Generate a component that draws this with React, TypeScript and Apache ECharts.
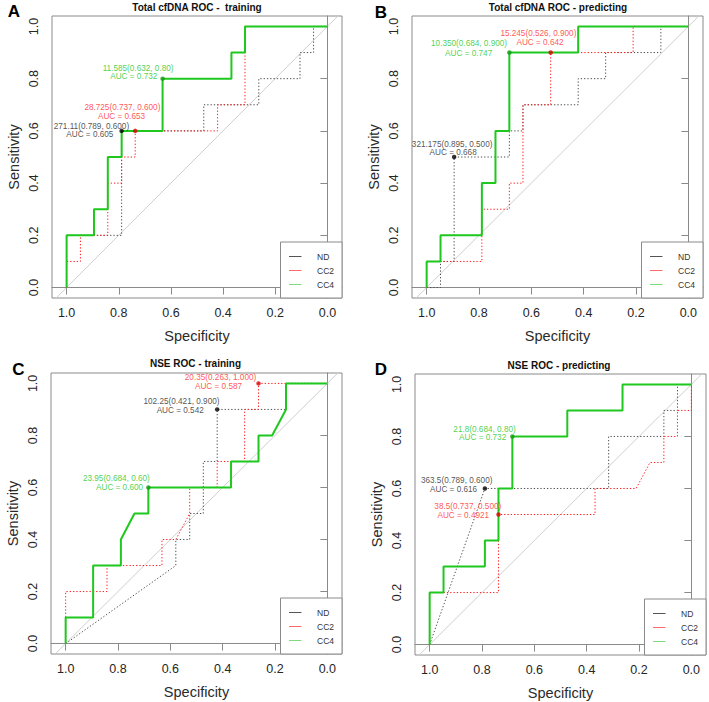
import React, { useEffect, useRef } from 'react';
import * as echarts from 'echarts';

// ---------- data ----------
const SERIES_NAMES = ['ND', 'CC2', 'CC4'];
const TICKS = [0, 0.2, 0.4, 0.6, 0.8, 1.0];
const PANEL_LETTERS = ['A', 'B', 'C', 'D'];
const PANEL_TITLES = [
  'Total cfDNA ROC -  training',
  'Total cfDNA ROC - predicting',
  'NSE ROC - training',
  'NSE ROC - predicting',
];

// Panel A: Total cfDNA ROC - training  ([specificity, sensitivity])
const A_ND: [number, number][] = [[1, 0], [1, 0.2], [0.789, 0.2], [0.789, 0.6], [0.474, 0.6], [0.474, 0.7], [0.263, 0.7], [0.263, 0.8], [0.105, 0.8], [0.105, 0.9], [0.053, 0.9], [0.053, 1], [0, 1]];
const A_CC2: [number, number][] = [[1, 0], [1, 0.1], [0.947, 0.1], [0.947, 0.2], [0.842, 0.2], [0.842, 0.4], [0.789, 0.4], [0.789, 0.5], [0.737, 0.5], [0.737, 0.6], [0.421, 0.6], [0.421, 0.7], [0.316, 0.7], [0.316, 1], [0, 1]];
const A_CC4: [number, number][] = [[1, 0], [1, 0.2], [0.895, 0.2], [0.895, 0.3], [0.842, 0.3], [0.842, 0.5], [0.789, 0.5], [0.789, 0.6], [0.632, 0.6], [0.632, 0.8], [0.368, 0.8], [0.368, 0.9], [0.316, 0.9], [0.316, 1], [0, 1]];
const A_CUT_SPEC = [0.789, 0.737, 0.632];
const A_CUT_SENS = [0.6, 0.6, 0.8];
const A_CUT_TEXT = ['271.11(0.789, 0.600)', '28.725(0.737, 0.600)', '11.585(0.632, 0.80)'];
const A_AUC = ['0.605', '0.653', '0.732'];

// Panel B: Total cfDNA ROC - predicting
const B_ND: [number, number][] = [[1, 0], [0.947, 0], [0.947, 0.1], [0.895, 0.1], [0.895, 0.5], [0.684, 0.5], [0.684, 0.6], [0.632, 0.6], [0.632, 0.7], [0.421, 0.7], [0.421, 0.8], [0.316, 0.8], [0.316, 0.9], [0.105, 0.9], [0.105, 1], [0, 1]];
const B_CC2: [number, number][] = [[1, 0], [1, 0.1], [0.789, 0.1], [0.789, 0.3], [0.684, 0.3], [0.684, 0.4], [0.632, 0.4], [0.632, 0.7], [0.526, 0.7], [0.526, 0.9], [0.211, 0.9], [0.211, 1], [0, 1]];
const B_CC4: [number, number][] = [[1, 0], [1, 0.1], [0.947, 0.1], [0.947, 0.2], [0.789, 0.2], [0.789, 0.4], [0.737, 0.4], [0.737, 0.6], [0.684, 0.6], [0.684, 0.9], [0.421, 0.9], [0.421, 1], [0, 1]];
const B_CUT_SPEC = [0.895, 0.526, 0.684];
const B_CUT_SENS = [0.5, 0.9, 0.9];
const B_CUT_TEXT = ['321.175(0.895, 0.500)', '15.245(0.526, 0.900)', '10.350(0.684, 0.900)'];
const B_AUC = ['0.668', '0.642', '0.747'];

// Panel C: NSE ROC - training
const C_ND: [number, number][] = [[1, 0], [0.579, 0.3], [0.579, 0.4], [0.526, 0.4], [0.526, 0.5], [0.474, 0.5], [0.474, 0.7], [0.421, 0.7], [0.421, 0.9], [0.158, 0.9], [0.158, 1], [0, 1]];
const C_CC2: [number, number][] = [[1, 0], [1, 0.2], [0.842, 0.2], [0.842, 0.3], [0.632, 0.3], [0.632, 0.4], [0.579, 0.4], [0.526, 0.5], [0.526, 0.6], [0.421, 0.6], [0.421, 0.7], [0.316, 0.7], [0.316, 0.9], [0.263, 0.9], [0.263, 1], [0, 1]];
const C_CC4: [number, number][] = [[1, 0], [1, 0.1], [0.895, 0.1], [0.895, 0.3], [0.789, 0.3], [0.789, 0.4], [0.737, 0.5], [0.684, 0.5], [0.684, 0.6], [0.368, 0.6], [0.368, 0.7], [0.263, 0.7], [0.263, 0.8], [0.211, 0.8], [0.158, 0.9], [0.158, 1], [0, 1]];
const C_CUT_SPEC = [0.421, 0.263, 0.684];
const C_CUT_SENS = [0.9, 1.0, 0.6];
const C_CUT_TEXT = ['102.25(0.421, 0.900)', '20.35(0.263, 1.000)', '23.95(0.684, 0.60)'];
const C_AUC = ['0.542', '0.587', '0.600'];

// Panel D: NSE ROC - predicting
const D_ND: [number, number][] = [[1, 0], [0.789, 0.6], [0.316, 0.6], [0.316, 0.8], [0.105, 0.8], [0.105, 0.9], [0.053, 0.9], [0.053, 1], [0, 1]];
const D_CC2: [number, number][] = [[1, 0], [1, 0.2], [0.737, 0.2], [0.737, 0.5], [0.368, 0.5], [0.368, 0.6], [0.211, 0.6], [0.158, 0.7], [0.105, 0.7], [0.105, 0.8], [0.053, 0.8], [0.053, 0.9], [0, 0.9], [0, 1]];
const D_CC4: [number, number][] = [[1, 0], [1, 0.2], [0.947, 0.2], [0.947, 0.3], [0.789, 0.3], [0.789, 0.4], [0.737, 0.4], [0.737, 0.6], [0.684, 0.6], [0.684, 0.8], [0.474, 0.8], [0.474, 0.9], [0.263, 0.9], [0.263, 1], [0, 1]];
const D_CUT_SPEC = [0.789, 0.737, 0.684];
const D_CUT_SENS = [0.6, 0.5, 0.8];
const D_CUT_TEXT = ['363.5(0.789, 0.600)', '38.5(0.737, 0.500)', '21.8(0.684, 0.80)'];
const D_AUC = ['0.616', '0.4921', '0.732'];

const PANELS = [
  { curves: [A_ND, A_CC2, A_CC4], spec: A_CUT_SPEC, sens: A_CUT_SENS, text: A_CUT_TEXT, auc: A_AUC },
  { curves: [B_ND, B_CC2, B_CC4], spec: B_CUT_SPEC, sens: B_CUT_SENS, text: B_CUT_TEXT, auc: B_AUC },
  { curves: [C_ND, C_CC2, C_CC4], spec: C_CUT_SPEC, sens: C_CUT_SENS, text: C_CUT_TEXT, auc: C_AUC },
  { curves: [D_ND, D_CC2, D_CC4], spec: D_CUT_SPEC, sens: D_CUT_SENS, text: D_CUT_TEXT, auc: D_AUC },
];

// ---------- layout & style ----------
const GRIDS = [
  { left: 52, top: 16, width: 290, height: 282 },
  { left: 412, top: 16, width: 291, height: 282 },
  { left: 51, top: 373, width: 291, height: 281 },
  { left: 415, top: 374, width: 291, height: 281 },
];
const TITLE_POS = [[197, 7], [558, 7.5], [195.5, 363.5], [559, 365]];
const LETTER_POS = [[14, 11], [381, 12.5], [18.5, 369], [381, 369]];
// per panel, per series: [[dx,dy] line1, [dx,dy] line2] in px from the cutoff point
const LABEL_OFFSETS = [
  [[[-30.2, -4.8], [-31.8, 3.3]], [[-12.8, -23.3], [-13.7, -14.3]], [[-24.5, -10.4], [-28.8, -1.8]]],
  [[[-2, -12.7], [-1, -4.3]], [[-12.3, -19.3], [-10.7, -10.3]], [[-40.3, -8.7], [-40.7, 0.7]]],
  [[[-35.7, -7.7], [-37, 1]], [[-38, -6], [-40, 3.3]], [[-32, -8.7], [-28.8, 0.3]]],
  [[[-28.2, -7.7], [-31.3, 1.3]], [[-30.7, -7.7], [-35.2, 0.7]], [[-27.8, -7.3], [-29.7, 1]]],
];
const LINE_COLORS = ['#4d4d4d', '#ff1a1a', '#1ec81e'];
const TEXT_COLORS = ['#262626', '#ff2a2a', '#22c522'];
const POINT_COLORS = ['#000000', '#e00000', '#109a10'];
const LEGEND_COLORS = ['#555555', '#ff6b6b', '#7fd97f'];
const FRAME = '#8a8a8a';
const FONT = "'Liberation Sans', Arial, Helvetica, sans-serif";

function buildOption() {
  const grid: any[] = [];
  const xAxis: any[] = [];
  const yAxis: any[] = [];
  const series: any[] = [];
  const graphic: any[] = [];

  PANELS.forEach((p, i) => {
    const g = GRIDS[i];
    grid.push({ ...g, show: true, borderColor: FRAME, borderWidth: 1, backgroundColor: 'transparent' });
    xAxis.push({
      type: 'value', gridIndex: i, inverse: true, min: -0.056, max: 1.056,
      name: 'Specificity', nameLocation: 'middle', nameGap: 30,
      nameTextStyle: { fontSize: 14.5, color: '#2a2a2a', fontWeight: 'normal', fontFamily: FONT },
      axisLine: { show: true, lineStyle: { color: FRAME } },
      axisTick: { show: true, inside: false, length: 7, customValues: TICKS, lineStyle: { color: FRAME } },
      axisLabel: { show: true, customValues: TICKS, margin: 8, fontSize: 12.5, color: '#262626', fontFamily: FONT, formatter: (v: number) => v.toFixed(1) },
      splitLine: { show: false },
    });
    yAxis.push({
      type: 'value', gridIndex: i, min: -0.04, max: 1.04,
      name: 'Sensitivity', nameLocation: 'middle', nameGap: 31,
      nameTextStyle: { fontSize: 14.5, color: '#2a2a2a', fontWeight: 'normal', fontFamily: FONT },
      axisLine: { show: true, lineStyle: { color: FRAME } },
      axisTick: { show: true, inside: false, length: 7, customValues: TICKS, lineStyle: { color: FRAME } },
      axisLabel: { show: true, customValues: TICKS, margin: 12, rotate: 90, fontSize: 12.5, color: '#262626', fontFamily: FONT, formatter: (v: number) => v.toFixed(1) },
      splitLine: { show: false },
    });

    // reference diagonal
    series.push({
      type: 'line', xAxisIndex: i, yAxisIndex: i, silent: true, symbol: 'none', clip: true, z: 1,
      data: [[1.2, -0.2], [-0.2, 1.2]],
      lineStyle: { color: '#cfcfcf', width: 1 },
    });

    p.curves.forEach((c, k) => {
      series.push({
        name: SERIES_NAMES[k], type: 'line', xAxisIndex: i, yAxisIndex: i,
        data: c, showSymbol: false, symbol: 'none', clip: true, z: 2 + k,
        lineStyle: k === 2
          ? { color: LINE_COLORS[k], width: 2, type: 'solid' }
          : { color: LINE_COLORS[k], width: 1, type: [1.3, 2] },
      });
    });

    p.spec.forEach((sx, k) => {
      const off = LABEL_OFFSETS[i][k];
      const lbl = (text: string, o: number[]) => ({
        show: true, position: 'inside', formatter: text, offset: o,
        color: TEXT_COLORS[k], fontSize: 8.2, fontFamily: FONT, align: 'center', verticalAlign: 'middle',
      });
      series.push({
        name: SERIES_NAMES[k] + ' cutoff', type: 'scatter', xAxisIndex: i, yAxisIndex: i, z: 6,
        symbol: 'circle', silent: true,
        itemStyle: { color: POINT_COLORS[k] },
        data: [
          { value: [sx, p.sens[k]], symbolSize: 4.5, label: lbl(p.text[k], off[0]) },
          { value: [sx, p.sens[k]], symbolSize: 0, label: lbl('AUC = ' + p.auc[k], off[1]) },
        ],
      });
    });

    // title & letter
    graphic.push({
      type: 'text', x: TITLE_POS[i][0], y: TITLE_POS[i][1], z: 10,
      style: { text: PANEL_TITLES[i], fill: '#111', font: `bold 10px ${FONT}`, textAlign: 'center', textVerticalAlign: 'middle' },
    });
    graphic.push({
      type: 'text', x: LETTER_POS[i][0], y: LETTER_POS[i][1], z: 10,
      style: { text: PANEL_LETTERS[i], fill: '#000', font: `bold 17px ${FONT}`, textAlign: 'center', textVerticalAlign: 'middle' },
    });

    // legend box at bottom-right
    const right = g.left + g.width;
    const bottom = g.top + g.height;
    const lg: any[] = [{
      type: 'rect', shape: { x: right - 61.5, y: bottom - 56, width: 61.5, height: 56 },
      style: { fill: '#fff', stroke: FRAME, lineWidth: 1 }, z: 8,
    }];
    SERIES_NAMES.forEach((nm, k) => {
      const yy = bottom - 41.5 + k * 14;
      lg.push({ type: 'line', shape: { x1: right - 53, y1: yy, x2: right - 40.5, y2: yy }, style: { stroke: LEGEND_COLORS[k], lineWidth: 1 }, z: 9 });
      lg.push({ type: 'text', x: right - 25, y: yy, z: 9, style: { text: nm, fill: '#333', font: `8.5px ${FONT}`, textAlign: 'left', textVerticalAlign: 'middle' } });
    });
    graphic.push(...lg);
  });

  return {
    animation: false,
    backgroundColor: '#ffffff',
    textStyle: { fontFamily: FONT },
    grid, xAxis, yAxis, series, graphic,
  };
}

export default function App() {
  const ref = useRef<HTMLDivElement>(null);
  useEffect(() => {
    if (!ref.current) return;
    const chart = echarts.init(ref.current, undefined, { renderer: 'svg' });
    chart.setOption(buildOption() as any);
    return () => chart.dispose();
  }, []);
  return <div ref={ref} style={{ position: 'absolute', left: 0, top: 0, width: 709, height: 702 }} />;
}
